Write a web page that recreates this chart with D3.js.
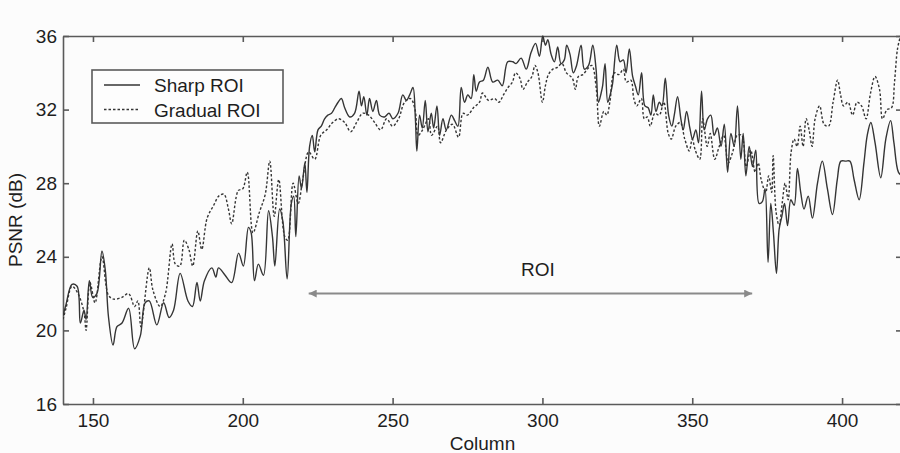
<!DOCTYPE html>
<html>
<head>
<meta charset="utf-8">
<script src="https://cdn.jsdelivr.net/npm/d3@7"></script>
<style>
  body { margin: 0; background: #fcfcfc; }
  text { font-family: "Liberation Sans", Arial, sans-serif; fill: #1e1e1e; }
</style>
</head>
<body>
<div id="viz"></div>
<script>
//-------The "Data" (column, PSNR in dB)-------------------------------
var sharpROI = [
  [140,20.8],[141,21.4],[143,22.5],[144.7,22.4],[145.8,20.4],[147,21.1],[147.7,20.6],[148.8,22.7],[149.9,21.8],[151.3,22.0],
  [153,24.3],[154.1,23.3],[155.2,20.7],[156.7,19.2],[158,20.2],[159.7,20.4],[161.9,21.2],[163.9,19.0],[165.8,19.7],[167.4,21.5],
  [168.8,21.6],[171.3,20.3],[173.6,21.5],[175.4,20.7],[176.9,21.1],[179.1,23.1],[181.7,21.6],[183.2,21.3],[184.7,22.6],[185.8,21.6],
  [187.2,22.7],[189.7,23.4],[191,22.9],[191.9,23.4],[194.1,23.0],[196.3,22.6],[198.6,24.2],[200.2,23.5],[201.9,25.6],[202.8,25.3],
  [203.9,22.7],[205.2,23.6],[206.9,23.0],[208.6,26.5],[209.9,25.1],[210.7,23.5],[212.3,26.6],[213.4,25.9],[214.8,22.8],[216.2,26.9],
  [217,27.3],[217.7,25.1],[218.8,28.4],[219.6,27.7],[220.7,29.1],[221.4,27.5],[222.3,30.0],[223.2,30.6],[224,29.7],[225.1,30.9],
  [226.2,31.1],[227.3,31.5],[228.4,31.7],[229.6,31.8],[230.7,32.1],[231.8,32.4],[232.9,32.6],[234,32.1],[235.7,31.6],[237.3,31.8],
  [238.8,33.0],[239.6,32.2],[240.4,32.7],[241.4,31.7],[242.3,32.6],[243.4,31.9],[244.6,32.5],[245.7,31.7],[247.3,31.6],[248.8,31.8],
  [250.1,31.5],[251.8,31.8],[253.4,32.8],[254.6,32.5],[255.7,32.8],[256.8,33.2],[257.6,31.5],[258.1,29.75],[259,31.7],[259.9,31.0],
  [260.9,32.5],[261.8,30.8],[262.9,31.8],[263.7,31.0],[264.8,32.2],[265.7,30.6],[266.8,31.5],[267.9,30.9],[269.6,31.7],[270.7,31.4],
  [271.8,31.1],[272.9,33.2],[274,32.4],[275.1,32.8],[276.2,32.6],[277.1,33.9],[277.9,33.0],[279,33.5],[280.3,33.6],[281.8,34.3],
  [283.4,33.5],[285.1,33.6],[286.6,33.3],[288.4,34.6],[290.1,34.6],[291.2,34.5],[292.9,34.8],[294.6,34.2],[296.2,35.1],[297.7,35.6],
  [299,34.9],[300.1,36.0],[301,35.5],[301.8,35.8],[302.9,35.0],[304,34.6],[305.1,35.4],[306.2,34.5],[307.3,34.7],[308.1,35.5],
  [309.2,35.0],[310.3,34.0],[311.4,34.4],[312.9,35.5],[314,34.2],[315.4,34.4],[316.8,35.5],[317.9,34.2],[318.7,32.4],[319.6,32.9],
  [320.1,33.3],[320.9,34.5],[321.8,32.4],[322.6,32.8],[323.4,33.4],[324.8,35.5],[325.9,34.6],[327,34.7],[327.9,34.0],[329,35.3],
  [330.1,33.8],[331,33.3],[332,32.8],[333.1,34.0],[334.2,32.2],[335.3,32.1],[336.2,31.7],[337,32.8],[337.9,31.9],[339,32.4],
  [339.9,32.2],[341,33.7],[342.1,31.7],[343.2,31.1],[344,31.7],[345.1,32.7],[346.2,31.5],[347,30.9],[348.1,31.9],[349.2,31.0],
  [350.1,30.4],[351.2,30.9],[352.1,30.2],[353.1,33.0],[354,30.9],[355.1,31.5],[356.2,31.7],[357.3,30.6],[358.4,31.0],[359.6,30.0],
  [360.7,31.2],[361.8,28.6],[362.9,30.7],[364,30.0],[365.1,32.2],[366.2,29.3],[367,30.7],[367.9,28.4],[369,30.0],[370.1,28.9],
  [371.2,29.8],[372.3,26.9],[373.4,27.0],[374.3,27.7],[375.3,23.7],[376.2,26.9],[377.1,25.3],[378.1,23.1],[379,25.5],[379.9,26.2],
  [380.8,26.9],[381.8,25.7],[382.9,27.1],[384,26.8],[385.1,28.8],[386.2,27.5],[387.3,26.6],[388.7,27.3],[390.1,26.1],[391.8,28.0],
  [393.4,29.2],[395.1,27.7],[396.8,26.3],[398.4,28.2],[399.6,29.2],[401.2,29.2],[402.6,29.2],[404,28.2],[405.7,27.1],[407.3,29.1],
  [408.4,30.6],[409.6,31.3],[411,30.2],[412.9,28.3],[414.6,30.4],[416.2,31.4],[417.3,30.2],[418.8,28.6],[420,28.4]
];

var gradualROI = [
  [140,20.6],[141,21.2],[143,22.4],[145,22.0],[147,21.0],[147.7,20.0],[149,22.6],[150.7,21.5],[153,24.0],[155.2,21.9],
  [157,21.7],[159.7,21.8],[161.9,22.0],[163.9,21.3],[165,21.6],[166,20.2],[168.8,23.4],[170,22.2],[172.4,21.3],[174.2,22.0],
  [176.4,24.7],[177.5,23.6],[179,23.5],[180.5,24.9],[182,24.4],[183.3,23.5],[185,25.4],[186.3,24.4],[188.1,26.1],[190.3,26.8],
  [192,27.3],[193.7,27.4],[195.2,26.6],[196.3,25.8],[198.5,27.6],[200,27.7],[201.5,28.6],[203.4,25.3],[205.5,26.4],[207.5,27.4],
  [209,29.2],[210.5,26.2],[212,28.2],[214,25.1],[215,24.9],[216.8,28.0],[218.5,26.9],[220,28.2],[222,29.7],[224,29.3],
  [226,30.6],[228,30.9],[230,31.3],[232,31.5],[234,31.3],[236,30.8],[238,31.3],[240,31.8],[242,31.7],[244,31.3],
  [246,30.9],[248,31.5],[250,31.1],[252,31.5],[254,32.4],[256,32.6],[257.5,32.0],[258.5,30.6],[260,30.9],[262,31.5],
  [263,30.6],[265,31.1],[266,30.2],[268,30.9],[270,31.2],[272,30.5],[273.5,31.8],[275,31.7],[277,32.1],[279,32.4],
  [280,32.9],[282,32.5],[284,32.6],[285.5,32.4],[287,32.8],[288.5,33.2],[290,33.5],[291,34.0],[292.5,33.7],[293.5,33.1],
  [295,33.5],[296.5,33.8],[297.5,34.4],[298.5,34.0],[300,32.4],[301,33.3],[302,33.9],[303.5,34.2],[305,34.3],[306.5,34.5],
  [308,34.0],[310,33.7],[311,33.1],[312,33.8],[313.5,33.9],[315,34.2],[316.5,34.4],[318,33.1],[319,31.1],[320.5,31.9],
  [321.5,31.7],[322.5,32.4],[324,34.0],[325.5,33.9],[327,34.2],[328,33.5],[329.5,33.6],[330.5,32.6],[331.5,32.2],[333,32.6],
  [334,31.5],[335,31.6],[336,31.1],[337.5,31.8],[339,31.7],[340.5,32.4],[342,30.7],[343,30.4],[344.5,31.1],[346,31.3],
  [347.5,30.4],[349,29.75],[350,30.4],[351,29.8],[352.5,29.3],[353.5,31.5],[355,30.0],[356,30.7],[357.5,29.3],[359,30.0],
  [360.5,30.6],[362,29.1],[363.5,29.7],[365,30.6],[366.5,30.6],[368,28.9],[369.5,29.8],[371,28.6],[372,29.1],[373,28.2],
  [374.5,27.5],[375.5,28.4],[376.5,27.5],[377,29.5],[378,26.4],[379,25.7],[380,26.9],[381,28.0],[382,27.1],[383,29.7],
  [384,30.4],[385,30.0],[386,31.1],[387,30.0],[388,31.5],[389,30.9],[390,30.0],[391,31.5],[392.5,32.2],[394,31.2],
  [395.5,31.1],[397,32.4],[398.5,33.6],[399.5,32.8],[400.5,32.2],[402,32.4],[403.5,31.7],[405,32.4],[406.5,32.2],[408,31.5],
  [409.5,32.9],[411,33.8],[412.5,33.1],[413.5,31.5],[415,32.0],[416.5,32.1],[417.5,33.5],[418.5,35.3],[419.5,36.0]
];

var xTicks = [150, 200, 250, 300, 350, 400];
var yTicks = [16, 20, 24, 28, 32, 36];
var seriesNames = ["Sharp ROI", "Gradual ROI"];
var roiSpan = [222, 370];   // ends of the ROI arrow (columns)
var roiLevel = 22;          // PSNR level of the arrow
var roiLabel = "ROI";

//---------------------------------
var width = 900,
    height = 453;
var margin = {top: 36, right: -2, bottom: 49, left: 63};
var plotWidth = width - margin.left - margin.right;
var plotHeight = height - margin.top - margin.bottom;
var lineColor = "#353535";

var svg = d3.select("#viz")
  .append("svg")
    .attr("width", width)
    .attr("height", height);

var defs = svg.append("defs");
defs.append("clipPath").attr("id", "plot-clip")
  .append("rect")
    .attr("width", plotWidth)
    .attr("height", plotHeight + 1)
    .attr("y", -1);

["start", "end"].forEach(function(k){
  defs.append("marker")
      .attr("id", "arrow-" + k)
      .attr("viewBox", "0 0 10 10")
      .attr("refX", k == "end" ? 10 : 0)
      .attr("refY", 5)
      .attr("markerWidth", 12)
      .attr("markerHeight", 8)
      .attr("markerUnits", "userSpaceOnUse")
      .attr("orient", "auto")
    .append("path")
      .attr("d", k == "end" ? "M0,0L10,5L0,10Z" : "M10,0L0,5L10,10Z")
      .style("fill", "#8a8a8a");
});

var container = svg.append("g").attr("transform", "translate(" + margin.left + "," + margin.top + ")");

//------Set up the scales & axes-----------
var xScale = d3.scaleLinear()
    .domain([140, 420])
    .range([0, plotWidth]);

var yScale = d3.scaleLinear()
    .domain([16, 36])
    .range([plotHeight, 0]);

var xAxis = d3.axisBottom(xScale).tickValues(xTicks).tickSizeInner(-6).tickSizeOuter(0).tickPadding(10);
var yAxis = d3.axisLeft(yScale).tickValues(yTicks).tickSizeInner(-6).tickSizeOuter(0).tickPadding(6);
var xAxisTop = d3.axisTop(xScale).tickValues(xTicks).tickSizeInner(-6).tickSizeOuter(0).tickFormat("");
var yAxisRight = d3.axisRight(yScale).tickValues(yTicks).tickSizeInner(-6).tickSizeOuter(0).tickFormat("");

var gXAxis = container.append("g")
    .attr("id", "x-axis")
    .attr("transform", "translate(0," + plotHeight + ")")
    .call(xAxis);
container.append("g").attr("id", "x-axis-top").call(xAxisTop);
var gYAxis = container.append("g").attr("id", "y-axis").call(yAxis);
container.append("g").attr("id", "y-axis-right")
    .attr("transform", "translate(" + plotWidth + ",0)")
    .call(yAxisRight);

container.selectAll(".domain, .tick line")
    .style("stroke", "#5a5a5a")
    .style("stroke-width", "1.6px");
container.selectAll(".tick text")
    .style("font-size", "19px")
    .style("fill", "#1e1e1e");

svg.append("text")
    .attr("x", margin.left + xScale(280))
    .attr("y", 450)
    .attr("text-anchor", "middle")
    .style("font-size", "19px")
    .text("Column");

svg.append("text")
    .attr("transform", "translate(22," + (margin.top + plotHeight / 2) + ") rotate(-90)")
    .attr("text-anchor", "middle")
    .style("font-size", "19px")
    .text("PSNR (dB)");

//------Plot the data--------------------
var line = d3.line()
    .curve(d3.curveCatmullRom.alpha(0.5))
    .x(function(d){ return xScale(d[0]); })
    .y(function(d){ return yScale(d[1]); });

var lines = container.append("g").attr("clip-path", "url(#plot-clip)");

lines.append("path")
    .datum(gradualROI)
    .attr("d", line)
    .style("fill", "none")
    .style("stroke", lineColor)
    .style("stroke-width", "1.4px")
    .style("stroke-dasharray", "2.5,2");

lines.append("path")
    .datum(sharpROI)
    .attr("d", line)
    .style("fill", "none")
    .style("stroke", lineColor)
    .style("stroke-width", "1.4px");

//------ROI annotation--------------------
container.append("line")
    .attr("x1", xScale(roiSpan[0]))
    .attr("x2", xScale(roiSpan[1]))
    .attr("y1", yScale(roiLevel))
    .attr("y2", yScale(roiLevel))
    .attr("marker-start", "url(#arrow-start)")
    .attr("marker-end", "url(#arrow-end)")
    .style("stroke", "#8a8a8a")
    .style("stroke-width", "2px");

container.append("text")
    .attr("x", xScale(298.5))
    .attr("y", yScale(roiLevel) - 18)
    .attr("text-anchor", "middle")
    .style("font-size", "19px")
    .text(roiLabel);

//------Legend--------------------
var legend = svg.append("g").attr("transform", "translate(92,70)");
legend.append("rect")
    .attr("width", 191)
    .attr("height", 53)
    .style("fill", "#fdfdfd")
    .style("stroke", "#5a5a5a")
    .style("stroke-width", "1.6px");

var legendItems = legend.selectAll(".item")
    .data(seriesNames)
    .enter()
    .append("g")
    .attr("class", "item")
    .attr("transform", function(d, i){ return "translate(0," + (15 + i * 24.5) + ")"; });

legendItems.append("line")
    .attr("x1", 12)
    .attr("x2", 48)
    .style("stroke", lineColor)
    .style("stroke-width", "1.3px")
    .style("stroke-dasharray", function(d, i){ return i == 1 ? "2.5,2" : null; });

legendItems.append("text")
    .attr("x", 62)
    .attr("y", 7)
    .style("font-size", "19px")
    .text(function(d){ return d; });
</script>
</body>
</html>
